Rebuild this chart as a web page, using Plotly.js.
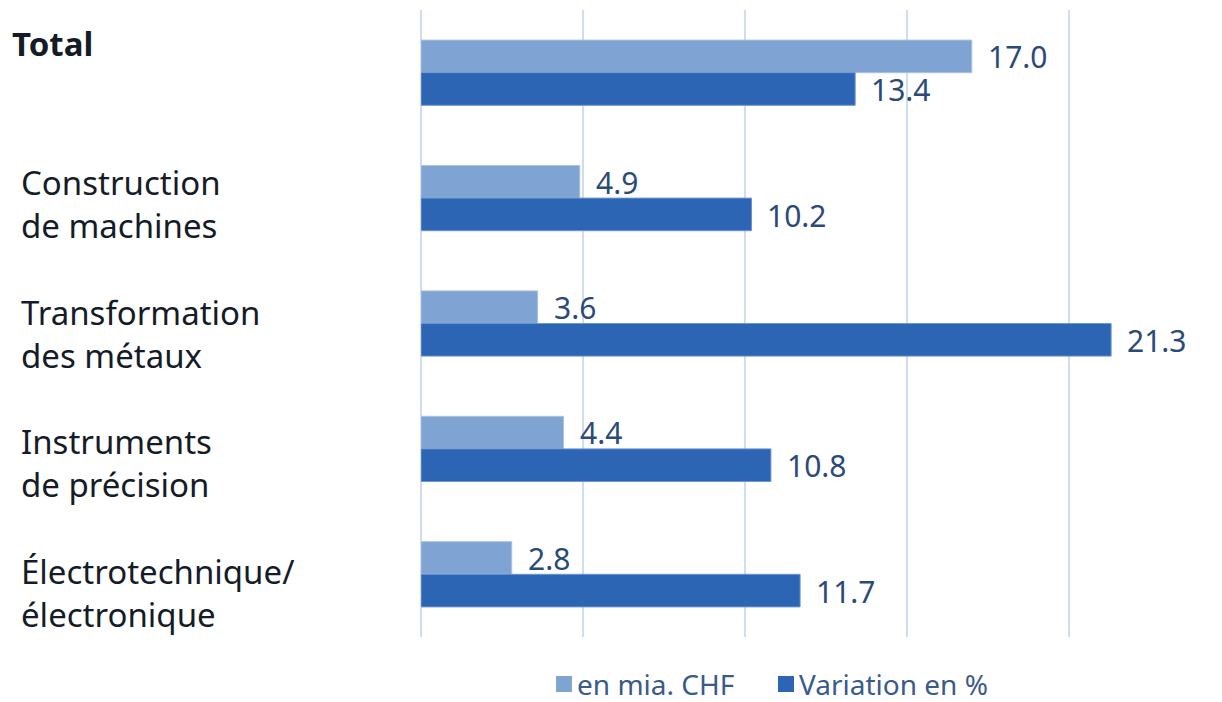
<!DOCTYPE html>
<html>
<head>
<meta charset="utf-8">
<script src="https://cdn.plot.ly/plotly-3.0.1.min.js"></script>
<style>html,body{margin:0;padding:0;background:#fff}#chart{width:1222px;height:702px}</style>
</head>
<body>
<div id="chart"></div>
<script>
var categories = ["Total", "Construction<br>de machines", "Transformation<br>des métaux", "Instruments<br>de précision", "Électrotechnique/<br>électronique"];
var seriesNames = ["en mia. CHF", "Variation en %"];
var valuesCHF = [17.0, 4.9, 3.6, 4.4, 2.8];
var valuesPct = [13.4, 10.2, 21.3, 10.8, 11.7];

var FONT = "Noto Sans, Open Sans, sans-serif";
var lightColor = "#7fa3d2";
var darkColor = "#2c65b4";
var labelColor = "#2b4a78";

var ML = 421, MT = 10, MB = 65, W = 1222, H = 702;
var PW = W - ML, PH = H - MT - MB;
function px(x){ return (x - ML) / PW; }
function py(y){ return (H - MB - y) / PH; }

var ids = categories.map(function(c, i){ return "c" + i; });
var colors = [lightColor, darkColor];

var traces = [
  {type: "bar", orientation: "h", name: seriesNames[0], y: ids, x: valuesCHF,
   marker: {color: lightColor, line: {color: "#a9c2e4", width: 1}}, hoverinfo: "x"},
  {type: "bar", orientation: "h", name: seriesNames[1], y: ids, x: valuesPct,
   marker: {color: darkColor, line: {color: "#6f95cf", width: 1}}, hoverinfo: "x"}
];

var annotations = [];
categories.forEach(function(c, i){
  var isTotal = i === 0;
  annotations.push({
    xref: "paper", x: isTotal ? px(10) : px(19),
    yref: "y", y: ids[i], xanchor: "left", yanchor: "middle", align: "left",
    yshift: isTotal ? 29 : -(1 + 4.5 * i),
    text: isTotal ? "<b>" + c + "</b>" : c, showarrow: false,
    font: {family: FONT, size: 33, color: "#151c28"}
  });
});
[valuesCHF, valuesPct].forEach(function(arr, s){
  arr.forEach(function(v, i){
    annotations.push({
      xref: "x", x: v, yref: "y", y: ids[i], xanchor: "left", yanchor: "middle",
      xshift: 14, yshift: s === 0 ? 16 : -17, showarrow: false,
      text: v.toFixed(1), font: {family: FONT, size: 30, color: labelColor}
    });
  });
});

// manual legend
var legendSquareX = [556, 778];
var legendY = 684;
var shapes = [];
seriesNames.forEach(function(n, s){
  var x0 = legendSquareX[s];
  shapes.push({type: "rect", xref: "paper", yref: "paper", x0: px(x0), x1: px(x0 + 16),
               y0: py(legendY + 8), y1: py(legendY - 8), fillcolor: colors[s], line: {width: 0}, layer: "above"});
  annotations.push({xref: "paper", yref: "paper", x: px(x0 + 20), y: py(legendY), xanchor: "left", yanchor: "middle",
                    borderpad: 0, text: n, showarrow: false, font: {family: FONT, size: 28, color: "#3a5a8c"}});
});

var layout = {
  width: W, height: H,
  margin: {l: ML, r: 0, t: MT, b: MB, pad: 0},
  paper_bgcolor: "#fff", plot_bgcolor: "#fff",
  barmode: "group", bargap: 0.48, bargroupgap: 0,
  xaxis: {range: [0, PW/32.4], dtick: 5, tick0: 0, showgrid: true, gridcolor: "#d0dcf0", gridwidth: 2,
          zeroline: true, zerolinecolor: "#d0dcf0", zerolinewidth: 2, showticklabels: false, ticks: "", fixedrange: true},
  yaxis: {type: "category", autorange: "reversed", showticklabels: false, showgrid: false, zeroline: false, ticks: ""},
  showlegend: false,
  annotations: annotations,
  shapes: shapes,
  font: {family: FONT}
};

Plotly.newPlot("chart", traces, layout, {displayModeBar: false, staticPlot: true});
</script>
</body>
</html>
